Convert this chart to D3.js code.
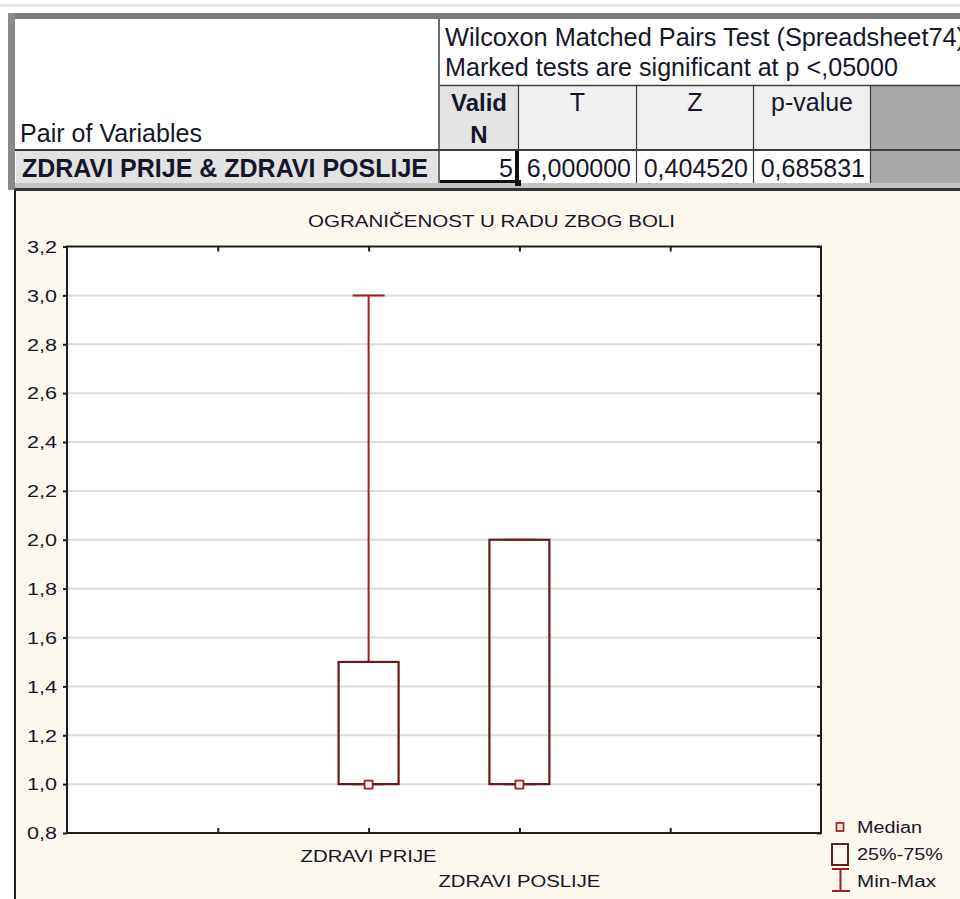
<!DOCTYPE html>
<html><head><meta charset="utf-8">
<script src="https://cdn.jsdelivr.net/npm/d3@7"></script>
<style>html,body{margin:0;padding:0;background:#fff;} svg{display:block;font-family:"Liberation Sans",Arial,sans-serif;}</style>
</head><body><svg id="c" width="960" height="899"></svg>
<script>
// ---------- data ----------
const chartTitle = "OGRANIČENOST U RADU ZBOG BOLI";
const categories = ["ZDRAVI PRIJE", "ZDRAVI POSLIJE"];
const medians = [1.0, 1.0];
const q1 = [1.0, 1.0];
const q3 = [1.5, 2.0];
const mins = [1.0, 1.0];
const maxs = [3.0, 2.0];
const yTickValues = [0.8, 1.0, 1.2, 1.4, 1.6, 1.8, 2.0, 2.2, 2.4, 2.6, 2.8, 3.0, 3.2];
const gridValues = [1.0, 1.2, 1.4, 1.6, 1.8, 2.0, 2.2, 2.4, 2.6, 2.8, 3.0];
const xTickValues = [-1, 0, 1, 2];
const legendLabels = ["Median", "25%-75%", "Min-Max"];
const tableTitleLines = ["Wilcoxon Matched Pairs Test (Spreadsheet74)", "Marked tests are significant at p <,05000"];
const tableHeaders = ["T", "Z", "p-value"];
const pairHeader = "Pair of Variables";
const rowLabel = "ZDRAVI PRIJE & ZDRAVI POSLIJE";
const validN = 5;
const statValues = [6.000000, 0.404520, 0.685831];

const comma = s => s.replace(".", ",");
const fmt1 = v => comma(d3.format(".1f")(v));
const fmt6 = v => comma(d3.format(".6f")(v));

const svg = d3.select("#c");
const FONT = '"Liberation Sans", Arial, sans-serif';
const TXT = "#16162a";

// ---------- spreadsheet table ----------
const tb = svg.append("g");
tb.append("rect").attr("x", 0).attr("y", 4).attr("width", 960).attr("height", 3).attr("fill", "#e6e6e6");
tb.append("rect").attr("x", 8).attr("y", 13).attr("width", 952).attr("height", 6).attr("fill", "#7c7c7c");
tb.append("rect").attr("x", 8).attr("y", 13).attr("width", 7).attr("height", 177).attr("fill", "#8a8a8a");
tb.append("rect").attr("x", 15).attr("y", 19).attr("width", 945).attr("height", 164).attr("fill", "#ffffff");
tb.append("rect").attr("x", 440).attr("y", 86).attr("width", 78).attr("height", 63).attr("fill", "#e4e4e4");
tb.append("rect").attr("x", 519).attr("y", 86).attr("width", 351).attr("height", 63).attr("fill", "#f0f0f0");
tb.append("rect").attr("x", 871).attr("y", 86).attr("width", 89).attr("height", 97).attr("fill", "#a9a9a9");
tb.append("rect").attr("x", 16).attr("y", 151).attr("width", 422).attr("height", 32).attr("fill", "#e2e2e2");
tb.append("rect").attr("x", 15).attr("y", 183).attr("width", 945).attr("height", 5).attr("fill", "#c4c4c4");
tb.append("rect").attr("x", 15).attr("y", 188).attr("width", 945).attr("height", 2).attr("fill", "#333");
const L = (x1, y1, x2, y2, c, w) => tb.append("line").attr("x1", x1).attr("y1", y1).attr("x2", x2).attr("y2", y2).attr("stroke", c).attr("stroke-width", w);
L(439, 19, 439, 183, "#3c3c3c", 1.5);
L(440, 85.5, 960, 85.5, "#3c3c3c", 1.5);
L(15, 150, 960, 150, "#3c3c3c", 2);
[636.5, 753.5, 870.5].forEach(x => L(x, 86, x, 183, "#3c3c3c", 1.2));
L(518.5, 86, 518.5, 150, "#3c3c3c", 1.2);
tb.append("rect").attr("x", 515).attr("y", 151).attr("width", 4).attr("height", 32).attr("fill", "#111");
tb.append("rect").attr("x", 440).attr("y", 180).attr("width", 79).attr("height", 3).attr("fill", "#111");
tb.append("rect").attr("x", 515).attr("y", 180).attr("width", 6).attr("height", 6).attr("fill", "#111");

const T = (x, y, s, opts = {}) => {
  const t = tb.append("text").attr("x", x).attr("y", y).text(s)
    .attr("font-family", FONT).attr("font-size", opts.size || 25).attr("fill", TXT)
    .attr("font-weight", opts.bold ? "bold" : "normal").attr("text-anchor", opts.anchor || "start");
  if (opts.len) t.attr("textLength", opts.len).attr("lengthAdjust", "spacingAndGlyphs");
  return t;
};
T(445, 46, tableTitleLines[0], { len: 520 });
T(445, 76, tableTitleLines[1], { len: 453 });
T(20, 142, pairHeader, { len: 182 });
T(479, 111, "Valid", { bold: true, anchor: "middle", size: 24 });
T(479, 143, "N", { bold: true, anchor: "middle", size: 24 });
const colCenters = [577.5, 695, 812];
tableHeaders.forEach((h, i) => T(colCenters[i], 111, h, { anchor: "middle" }));
T(22, 177, rowLabel, { bold: true, len: 406 });
T(513, 177, String(validN), { anchor: "end" });
const colRights = [631, 748, 865];
statValues.forEach((v, i) => T(colRights[i], 177, fmt6(v), { anchor: "end" }));

// ---------- chart panel ----------
const panel = svg.append("g");
panel.append("rect").attr("x", 15).attr("y", 190).attr("width", 945).attr("height", 709).attr("fill", "#fdf8ee");
panel.append("line").attr("x1", 15).attr("y1", 190).attr("x2", 15).attr("y2", 899).attr("stroke", "#222").attr("stroke-width", 2);
panel.append("line").attr("x1", 14).attr("y1", 190).attr("x2", 960).attr("y2", 190).attr("stroke", "#333").attr("stroke-width", 2);

const P = { left: 67, right: 821, top: 246.5, bottom: 833 };
const y = d3.scaleLinear().domain([0.8, 3.2]).range([P.bottom, P.top]);
const x = d3.scaleLinear().domain([-2, 3]).range([P.left, P.right]);

panel.append("text").attr("x", 491.5).attr("y", 227).attr("text-anchor", "middle")
  .attr("font-family", FONT).attr("font-size", 17).attr("fill", TXT)
  .attr("textLength", 367).attr("lengthAdjust", "spacingAndGlyphs").text(chartTitle);

panel.append("rect").attr("x", P.left).attr("y", P.top).attr("width", P.right - P.left).attr("height", P.bottom - P.top).attr("fill", "#fff");

panel.selectAll(".grid").data(gridValues).join("line").attr("class", "grid")
  .attr("x1", P.left).attr("x2", P.right).attr("y1", d => y(d)).attr("y2", d => y(d))
  .attr("stroke", "#dadada").attr("stroke-width", 2);

const WHISK = "#a31f1f", BOX = "#6a1a1a", MED = "#b32020";
const idx = categories.map((c, i) => i);
panel.selectAll(".wu").data(idx).join("line").attr("x1", i => x(i)).attr("x2", i => x(i))
  .attr("y1", i => y(q3[i])).attr("y2", i => y(maxs[i])).attr("stroke", WHISK).attr("stroke-width", 2);
panel.selectAll(".wl").data(idx).join("line").attr("x1", i => x(i)).attr("x2", i => x(i))
  .attr("y1", i => y(q1[i])).attr("y2", i => y(mins[i])).attr("stroke", WHISK).attr("stroke-width", 2);
panel.selectAll(".cu").data(idx).join("line").attr("x1", i => x(i) - 16).attr("x2", i => x(i) + 16)
  .attr("y1", i => y(maxs[i])).attr("y2", i => y(maxs[i])).attr("stroke", WHISK).attr("stroke-width", 2);
panel.selectAll(".cl").data(idx).join("line").attr("x1", i => x(i) - 16).attr("x2", i => x(i) + 16)
  .attr("y1", i => y(mins[i])).attr("y2", i => y(mins[i])).attr("stroke", WHISK).attr("stroke-width", 2);
panel.selectAll(".box").data(idx).join("rect").attr("x", i => x(i) - 30).attr("width", 60)
  .attr("y", i => y(q3[i])).attr("height", i => y(q1[i]) - y(q3[i]))
  .attr("fill", "none").attr("stroke", BOX).attr("stroke-width", 2.2);
panel.selectAll(".med").data(idx).join("rect").attr("x", i => x(i) - 4).attr("y", i => y(medians[i]) - 3.5)
  .attr("width", 8).attr("height", 8).attr("fill", "#fff").attr("stroke", MED).attr("stroke-width", 1.8);

panel.append("rect").attr("x", P.left).attr("y", P.top).attr("width", P.right - P.left).attr("height", P.bottom - P.top)
  .attr("fill", "none").attr("stroke", "#1c1c1c").attr("stroke-width", 2);

const styleAxis = g => { g.select(".domain").remove(); g.selectAll(".tick line").attr("stroke", "#1c1c1c").attr("stroke-width", 2); };
const gl = panel.append("g").attr("transform", `translate(${P.left},0)`)
  .call(d3.axisLeft(y).tickValues(yTickValues).tickSize(4).tickPadding(6).tickFormat(fmt1)).call(styleAxis);
gl.selectAll(".tick text").attr("font-family", FONT).attr("font-size", 16).attr("fill", TXT)
  .attr("textLength", 30).attr("lengthAdjust", "spacingAndGlyphs").attr("dy", "0.36em");
panel.append("g").attr("transform", `translate(${P.right},0)`)
  .call(d3.axisRight(y).tickValues(yTickValues).tickSize(-4).tickFormat("")).call(styleAxis);
panel.append("g").attr("transform", `translate(0,${P.bottom})`)
  .call(d3.axisBottom(x).tickValues(xTickValues).tickSize(-5).tickFormat("")).call(styleAxis);
panel.append("g").attr("transform", `translate(0,${P.top})`)
  .call(d3.axisTop(x).tickValues(xTickValues).tickSize(-5).tickFormat("")).call(styleAxis);

const catLens = [136, 162];
panel.selectAll(".cat").data(idx).join("text").attr("x", i => x(i)).attr("y", i => 862 + (i % 2) * 25)
  .attr("text-anchor", "middle").attr("font-family", FONT).attr("font-size", 16).attr("fill", TXT)
  .attr("textLength", i => catLens[i]).attr("lengthAdjust", "spacingAndGlyphs").text(i => categories[i]);

const lg = panel.append("g");
lg.append("rect").attr("x", 836.5).attr("y", 823).attr("width", 7).attr("height", 8).attr("fill", "none").attr("stroke", MED).attr("stroke-width", 1.8);
lg.append("rect").attr("x", 832).attr("y", 844).attr("width", 16).attr("height", 21).attr("fill", "none").attr("stroke", BOX).attr("stroke-width", 2);
lg.append("line").attr("x1", 832).attr("x2", 849).attr("y1", 869).attr("y2", 869).attr("stroke", WHISK).attr("stroke-width", 2);
lg.append("line").attr("x1", 840.5).attr("x2", 840.5).attr("y1", 869).attr("y2", 891).attr("stroke", WHISK).attr("stroke-width", 2);
lg.append("line").attr("x1", 832).attr("x2", 850).attr("y1", 891).attr("y2", 891).attr("stroke", WHISK).attr("stroke-width", 2);
const legLens = [65, 86, 79];
lg.selectAll(".lt").data(legendLabels).join("text").attr("x", 857).attr("y", (d, i) => 833 + i * 27)
  .attr("font-family", FONT).attr("font-size", 16).attr("fill", TXT)
  .attr("textLength", (d, i) => legLens[i]).attr("lengthAdjust", "spacingAndGlyphs").text(d => d);
</script></body></html>
